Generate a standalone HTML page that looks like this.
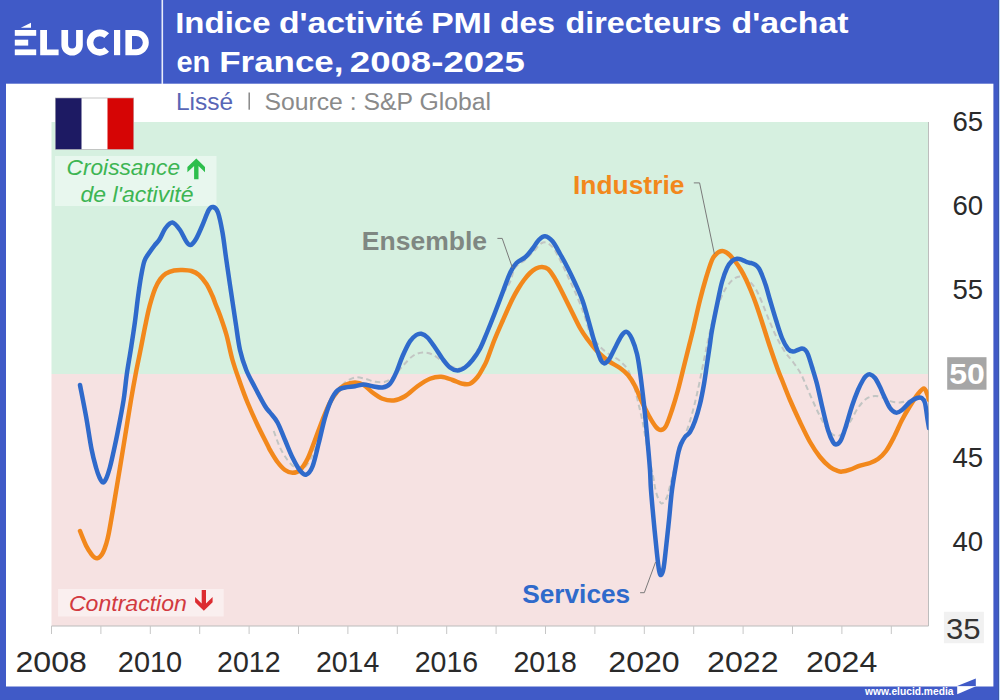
<!DOCTYPE html>
<html><head><meta charset="utf-8"><title>PMI France</title>
<style>
html,body{margin:0;padding:0;background:#fff;}
body{width:1000px;height:700px;overflow:hidden;font-family:"Liberation Sans",sans-serif;}
svg{display:block;font-family:"Liberation Sans",sans-serif;}
</style></head><body>
<svg width="1000" height="700" viewBox="0 0 1000 700">
<defs><clipPath id="cp"><rect x="51.5" y="122" width="877.0" height="504"/></clipPath></defs>
<!-- frame -->
<rect x="0" y="0" width="1000" height="700" fill="#405ac7"/>
<rect x="6" y="83.7" width="987.4" height="602.8" fill="#ffffff"/>
<rect x="998" y="0" width="1" height="700" fill="#3d59a8"/><rect x="999" y="0" width="1" height="700" fill="#c4dcff"/>
<!-- header -->
<rect x="161.5" y="0" width="1.6" height="84" fill="#e8ecfa"/>
<g fill="#ffffff">
<rect x="14.8" y="30" width="21.4" height="5.8"/>
<rect x="14.8" y="39.7" width="13.4" height="5.9"/>
<rect x="14.8" y="49.4" width="21.4" height="5.8"/>
<polygon points="20.8,27.7 31,22.7 31,27.7"/>
<path d="M40.2,30 h6.8 v19.4 h11.6 v5.8 h-18.4 z"/>
<path d="M61.4,30 h6.7 v14.6 a4,4 0 0 0 8,0 v-14.6 h6.7 v14.9 a10.7,10.7 0 0 1 -21.4,0 z"/>
<path d="M106.7,35.7 A9.75,9.75 0 1 0 106.7,49.5" fill="none" stroke="#ffffff" stroke-width="6.6"/>
<rect x="114" y="30" width="6.2" height="25.2"/>
<path fill-rule="evenodd" d="M125.4,30 h10.8 a12.6,12.6 0 0 1 0,25.2 h-10.8 z M132,36 h4.2 a6.6,6.6 0 0 1 0,13.2 h-4.2 z"/>
<text x="175.2" y="33" font-size="29" font-weight="bold" textLength="95.3" lengthAdjust="spacingAndGlyphs">Indice</text>
<text x="278.9" y="33" font-size="29" font-weight="bold" textLength="144.6" lengthAdjust="spacingAndGlyphs">d'activité</text>
<text x="430.9" y="33" font-size="29" font-weight="bold" textLength="60.6" lengthAdjust="spacingAndGlyphs">PMI</text>
<text x="500.1" y="33" font-size="29" font-weight="bold" textLength="55.0" lengthAdjust="spacingAndGlyphs">des</text>
<text x="565.5" y="33" font-size="29" font-weight="bold" textLength="156.0" lengthAdjust="spacingAndGlyphs">directeurs</text>
<text x="731.5" y="33" font-size="29" font-weight="bold" textLength="117.0" lengthAdjust="spacingAndGlyphs">d'achat</text>
<text x="176.5" y="72" font-size="29" font-weight="bold" textLength="33.8" lengthAdjust="spacingAndGlyphs">en</text>
<text x="219.3" y="72" font-size="29" font-weight="bold" textLength="124.2" lengthAdjust="spacingAndGlyphs">France,</text>
<text x="349.8" y="72" font-size="29" font-weight="bold" textLength="175.0" lengthAdjust="spacingAndGlyphs">2008-2025</text>
</g>
<!-- subtitle -->
<text x="176" y="109.8" font-size="23.5" fill="#5866b6" textLength="57.2" lengthAdjust="spacingAndGlyphs">Lissé</text>
<rect x="248.5" y="92.5" width="1.4" height="17.2" fill="#808080"/>
<text x="264.4" y="109.8" font-size="23.5" fill="#8a8a8a" textLength="226.6" lengthAdjust="spacingAndGlyphs">Source : S&amp;P Global</text>
<!-- plot zones -->
<rect x="51.5" y="122" width="877.0" height="252" fill="#d6f0e0"/>
<rect x="51.5" y="374" width="877.0" height="252" fill="#f6e2e2"/>
<line x1="51.5" y1="626" x2="928.5" y2="626" stroke="#bcbcbc" stroke-width="1"/>
<line x1="928.5" y1="122" x2="928.5" y2="626" stroke="#bdbdbd" stroke-width="1"/>
<g stroke="#c6c6c6" stroke-width="1"><line x1="51.5" y1="626.0" x2="51.5" y2="634.0"/><line x1="100.9" y1="626.0" x2="100.9" y2="634.0"/><line x1="150.3" y1="626.0" x2="150.3" y2="634.0"/><line x1="199.7" y1="626.0" x2="199.7" y2="634.0"/><line x1="249.1" y1="626.0" x2="249.1" y2="634.0"/><line x1="298.5" y1="626.0" x2="298.5" y2="634.0"/><line x1="347.9" y1="626.0" x2="347.9" y2="634.0"/><line x1="397.3" y1="626.0" x2="397.3" y2="634.0"/><line x1="446.7" y1="626.0" x2="446.7" y2="634.0"/><line x1="496.1" y1="626.0" x2="496.1" y2="634.0"/><line x1="545.5" y1="626.0" x2="545.5" y2="634.0"/><line x1="594.9" y1="626.0" x2="594.9" y2="634.0"/><line x1="644.3" y1="626.0" x2="644.3" y2="634.0"/><line x1="693.7" y1="626.0" x2="693.7" y2="634.0"/><line x1="743.1" y1="626.0" x2="743.1" y2="634.0"/><line x1="792.5" y1="626.0" x2="792.5" y2="634.0"/><line x1="841.9" y1="626.0" x2="841.9" y2="634.0"/><line x1="891.3" y1="626.0" x2="891.3" y2="634.0"/></g>
<!-- label boxes -->
<rect x="55" y="156" width="161.5" height="50" fill="#ffffff" fill-opacity="0.45"/>
<rect x="58.1" y="589" width="165.6" height="27.5" fill="#ffffff" fill-opacity="0.45"/>
<!-- curves -->
<g clip-path="url(#cp)" fill="none" stroke-linecap="round" stroke-linejoin="round">
<path d="M273.75,431.00 C274.79,433.75 277.71,442.67 280.00,447.50 C282.29,452.33 285.00,456.67 287.50,460.00 C290.00,463.33 292.50,466.04 295.00,467.50 C297.50,468.96 300.00,470.00 302.50,468.75 C305.00,467.50 307.42,464.46 310.00,460.00 C312.58,455.54 315.50,448.67 318.00,442.00 C320.50,435.33 322.58,427.21 325.00,420.00 C327.42,412.79 330.33,403.75 332.50,398.75 C334.67,393.75 335.92,392.71 338.00,390.00 C340.08,387.29 342.17,384.58 345.00,382.50 C347.83,380.42 351.67,378.12 355.00,377.50 C358.33,376.88 361.67,378.04 365.00,378.75 C368.33,379.46 371.67,381.25 375.00,381.75 C378.33,382.25 382.08,382.46 385.00,381.75 C387.92,381.04 389.58,380.08 392.50,377.50 C395.42,374.92 399.17,369.79 402.50,366.25 C405.83,362.71 409.17,358.54 412.50,356.25 C415.83,353.96 419.17,352.79 422.50,352.50 C425.83,352.21 429.17,353.04 432.50,354.50 C435.83,355.96 439.17,359.17 442.50,361.25 C445.83,363.33 449.58,365.88 452.50,367.00 C455.42,368.12 457.42,368.50 460.00,368.00 C462.58,367.50 465.50,366.33 468.00,364.00 C470.50,361.67 472.17,358.50 475.00,354.00 C477.83,349.50 481.88,343.50 485.00,337.00 C488.12,330.50 491.08,321.67 493.75,315.00 C496.42,308.33 498.29,302.50 501.00,297.00 C503.71,291.50 507.67,286.83 510.00,282.00 C512.33,277.17 512.50,271.67 515.00,268.00 C517.50,264.33 522.00,262.67 525.00,260.00 C528.00,257.33 530.00,254.92 533.00,252.00 C536.00,249.08 539.83,243.42 543.00,242.50 C546.17,241.58 549.50,244.25 552.00,246.50 C554.50,248.75 556.00,252.42 558.00,256.00 C560.00,259.58 562.00,263.83 564.00,268.00 C566.00,272.17 568.00,276.67 570.00,281.00 C572.00,285.33 573.67,288.50 576.00,294.00 C578.33,299.50 581.67,307.50 584.00,314.00 C586.33,320.50 587.67,327.92 590.00,333.00 C592.33,338.08 595.33,341.33 598.00,344.50 C600.67,347.67 603.33,349.92 606.00,352.00 C608.67,354.08 611.67,355.50 614.00,357.00 C616.33,358.50 617.67,358.83 620.00,361.00 C622.33,363.17 625.67,365.83 628.00,370.00 C630.33,374.17 632.17,380.00 634.00,386.00 C635.83,392.00 637.50,399.67 639.00,406.00 C640.50,412.33 641.50,416.33 643.00,424.00 C644.50,431.67 646.33,443.33 648.00,452.00 C649.67,460.67 651.67,469.33 653.00,476.00 C654.33,482.67 654.83,487.67 656.00,492.00 C657.17,496.33 658.83,500.17 660.00,502.00 C661.17,503.83 661.83,503.83 663.00,503.00 C664.17,502.17 665.83,499.83 667.00,497.00 C668.17,494.17 668.50,491.83 670.00,486.00 C671.50,480.17 674.00,469.33 676.00,462.00 C678.00,454.67 680.17,447.33 682.00,442.00 C683.83,436.67 685.33,434.67 687.00,430.00 C688.67,425.33 690.33,420.00 692.00,414.00 C693.67,408.00 695.33,401.33 697.00,394.00 C698.67,386.67 700.50,377.33 702.00,370.00 C703.50,362.67 704.83,355.67 706.00,350.00 C707.17,344.33 707.67,341.83 709.00,336.00 C710.33,330.17 712.08,321.17 714.00,315.00 C715.92,308.83 718.50,303.50 720.50,299.00 C722.50,294.50 723.92,291.25 726.00,288.00 C728.08,284.75 730.67,281.42 733.00,279.50 C735.33,277.58 737.67,276.58 740.00,276.50 C742.33,276.42 744.50,277.08 747.00,279.00 C749.50,280.92 752.67,284.50 755.00,288.00 C757.33,291.50 758.67,294.67 761.00,300.00 C763.33,305.33 766.33,313.67 769.00,320.00 C771.67,326.33 774.33,332.67 777.00,338.00 C779.67,343.33 782.33,348.00 785.00,352.00 C787.67,356.00 790.33,358.33 793.00,362.00 C795.67,365.67 798.50,369.33 801.00,374.00 C803.50,378.67 805.50,384.33 808.00,390.00 C810.50,395.67 813.67,403.00 816.00,408.00 C818.33,413.00 820.00,416.33 822.00,420.00 C824.00,423.67 825.83,427.40 828.00,430.00 C830.17,432.60 832.67,434.93 835.00,435.60 C837.33,436.27 839.50,436.27 842.00,434.00 C844.50,431.73 847.33,426.33 850.00,422.00 C852.67,417.67 855.33,411.83 858.00,408.00 C860.67,404.17 863.17,401.00 866.00,399.00 C868.83,397.00 872.00,396.17 875.00,396.00 C878.00,395.83 881.17,397.07 884.00,398.00 C886.83,398.93 889.33,400.87 892.00,401.60 C894.67,402.33 897.33,402.50 900.00,402.40 C902.67,402.30 905.33,401.57 908.00,401.00 C910.67,400.43 913.33,399.33 916.00,399.00 C918.67,398.67 921.83,398.83 924.00,399.00 C926.17,399.17 928.17,399.83 929.00,400.00" stroke="#c2c5c3" stroke-width="2" stroke-dasharray="5.5,3.5" stroke-linecap="butt"/>
<path d="M80.00,531.00 C81.04,533.50 84.25,542.00 86.25,546.00 C88.25,550.00 90.58,553.07 92.00,555.00 C93.42,556.93 93.92,557.05 94.80,557.60 C95.68,558.15 96.43,558.43 97.30,558.30 C98.17,558.17 99.05,557.77 100.00,556.80 C100.95,555.83 102.00,554.55 103.00,552.50 C104.00,550.45 105.04,547.67 106.00,544.50 C106.96,541.33 107.46,540.08 108.75,533.50 C110.04,526.92 112.08,514.75 113.75,505.00 C115.42,495.25 117.04,485.33 118.75,475.00 C120.46,464.67 121.96,455.50 124.00,443.00 C126.04,430.50 129.06,411.45 131.00,400.00 C132.94,388.55 133.98,382.87 135.61,374.30 C137.24,365.73 139.15,356.82 140.78,348.60 C142.41,340.38 143.91,332.15 145.40,325.00 C146.89,317.85 148.08,311.77 149.70,305.70 C151.32,299.63 153.32,293.07 155.10,288.60 C156.88,284.13 158.62,281.40 160.40,278.90 C162.18,276.40 163.53,275.00 165.80,273.60 C168.07,272.20 171.22,271.10 174.00,270.50 C176.78,269.90 179.58,269.92 182.50,270.00 C185.42,270.08 188.75,270.17 191.50,271.00 C194.25,271.83 196.50,272.83 199.00,275.00 C201.50,277.17 204.25,280.50 206.50,284.00 C208.75,287.50 211.00,292.67 212.50,296.00 C214.00,299.33 214.21,300.67 215.50,304.00 C216.79,307.33 218.42,310.83 220.25,316.00 C222.08,321.17 224.46,327.67 226.50,335.00 C228.54,342.33 230.25,352.08 232.50,360.00 C234.75,367.92 237.50,375.42 240.00,382.50 C242.50,389.58 244.58,395.42 247.50,402.50 C250.42,409.58 254.17,417.92 257.50,425.00 C260.83,432.08 265.42,440.83 267.50,445.00 C269.58,449.17 268.33,447.17 270.00,450.00 C271.67,452.83 275.00,458.67 277.50,462.00 C280.00,465.33 282.50,468.20 285.00,470.00 C287.50,471.80 290.00,472.80 292.50,472.80 C295.00,472.80 297.50,472.30 300.00,470.00 C302.50,467.70 305.00,464.00 307.50,459.00 C310.00,454.00 312.50,446.50 315.00,440.00 C317.50,433.50 320.00,426.25 322.50,420.00 C325.00,413.75 327.50,407.29 330.00,402.50 C332.50,397.71 335.00,394.17 337.50,391.25 C340.00,388.33 342.08,386.46 345.00,385.00 C347.92,383.54 351.88,382.50 355.00,382.50 C358.12,382.50 360.83,383.33 363.75,385.00 C366.67,386.67 369.38,390.21 372.50,392.50 C375.62,394.79 378.96,397.42 382.50,398.75 C386.04,400.08 390.00,400.92 393.75,400.50 C397.50,400.08 401.04,398.62 405.00,396.25 C408.96,393.88 413.33,389.17 417.50,386.25 C421.67,383.33 426.04,380.33 430.00,378.75 C433.96,377.17 437.50,376.54 441.25,376.75 C445.00,376.96 448.96,378.83 452.50,380.00 C456.04,381.17 459.58,383.12 462.50,383.75 C465.42,384.38 467.50,384.88 470.00,383.75 C472.50,382.62 475.33,379.62 477.50,377.00 C479.67,374.38 481.42,370.83 483.00,368.00 C484.58,365.17 485.10,364.67 487.00,360.00 C488.90,355.33 491.73,346.67 494.40,340.00 C497.07,333.33 500.07,326.67 503.00,320.00 C505.93,313.33 509.50,305.17 512.00,300.00 C514.50,294.83 516.00,292.33 518.00,289.00 C520.00,285.67 522.00,282.67 524.00,280.00 C526.00,277.33 528.00,274.90 530.00,273.00 C532.00,271.10 534.00,269.60 536.00,268.60 C538.00,267.60 540.00,266.93 542.00,267.00 C544.00,267.07 546.00,267.33 548.00,269.00 C550.00,270.67 552.00,273.83 554.00,277.00 C556.00,280.17 557.33,282.83 560.00,288.00 C562.67,293.17 566.67,301.33 570.00,308.00 C573.33,314.67 577.00,322.67 580.00,328.00 C583.00,333.33 585.33,336.33 588.00,340.00 C590.67,343.67 593.33,347.08 596.00,350.00 C598.67,352.92 601.67,355.50 604.00,357.50 C606.33,359.50 607.33,360.25 610.00,362.00 C612.67,363.75 617.00,365.83 620.00,368.00 C623.00,370.17 625.50,372.00 628.00,375.00 C630.50,378.00 632.67,381.50 635.00,386.00 C637.33,390.50 639.67,397.00 642.00,402.00 C644.33,407.00 646.67,411.83 649.00,416.00 C651.33,420.17 654.00,424.67 656.00,427.00 C658.00,429.33 659.33,430.17 661.00,430.00 C662.67,429.83 664.17,429.33 666.00,426.00 C667.83,422.67 670.00,416.00 672.00,410.00 C674.00,404.00 676.00,397.33 678.00,390.00 C680.00,382.67 682.17,373.33 684.00,366.00 C685.83,358.67 687.50,352.00 689.00,346.00 C690.50,340.00 691.17,337.67 693.00,330.00 C694.83,322.33 697.83,308.67 700.00,300.00 C702.17,291.33 704.00,284.67 706.00,278.00 C708.00,271.33 710.42,263.87 712.00,260.00 C713.58,256.13 714.37,256.13 715.50,254.80 C716.63,253.47 717.65,252.63 718.80,252.00 C719.95,251.37 721.20,250.97 722.40,251.00 C723.60,251.03 724.73,251.47 726.00,252.20 C727.27,252.93 728.33,253.68 730.00,255.40 C731.67,257.12 734.17,260.07 736.00,262.50 C737.83,264.93 739.33,267.17 741.00,270.00 C742.67,272.83 744.33,276.00 746.00,279.50 C747.67,283.00 749.33,286.92 751.00,291.00 C752.67,295.08 754.17,298.83 756.00,304.00 C757.83,309.17 759.67,314.83 762.00,322.00 C764.33,329.17 767.33,339.00 770.00,347.00 C772.67,355.00 776.00,364.50 778.00,370.00 C780.00,375.50 780.00,375.00 782.00,380.00 C784.00,385.00 787.00,393.00 790.00,400.00 C793.00,407.00 796.67,415.00 800.00,422.00 C803.33,429.00 806.67,436.17 810.00,442.00 C813.33,447.83 816.67,452.83 820.00,457.00 C823.33,461.17 827.00,464.67 830.00,467.00 C833.00,469.33 836.00,470.23 838.00,471.00 C840.00,471.77 840.00,471.83 842.00,471.60 C844.00,471.37 847.00,470.60 850.00,469.60 C853.00,468.60 856.67,466.70 860.00,465.60 C863.33,464.50 867.00,464.10 870.00,463.00 C873.00,461.90 875.33,461.00 878.00,459.00 C880.67,457.00 883.33,454.67 886.00,451.00 C888.67,447.33 891.33,442.17 894.00,437.00 C896.67,431.83 899.33,425.17 902.00,420.00 C904.67,414.83 907.33,410.33 910.00,406.00 C912.67,401.67 915.67,396.92 918.00,394.00 C920.33,391.08 922.40,388.33 924.00,388.50 C925.60,388.67 926.77,393.08 927.60,395.00 C928.43,396.92 928.77,399.17 929.00,400.00" stroke="#f2881c" stroke-width="4.5"/>
<path d="M80.00,385.00 C81.04,390.42 84.33,406.83 86.25,417.50 C88.17,428.17 89.88,440.67 91.50,449.00 C93.12,457.33 94.67,462.75 96.00,467.50 C97.33,472.25 98.35,475.02 99.50,477.50 C100.65,479.98 101.78,482.23 102.90,482.40 C104.02,482.57 105.02,481.07 106.20,478.50 C107.38,475.93 108.78,471.42 110.00,467.00 C111.22,462.58 112.25,457.67 113.50,452.00 C114.75,446.33 115.82,441.67 117.50,433.00 C119.18,424.33 122.05,409.78 123.60,400.00 C125.15,390.22 125.58,382.87 126.80,374.30 C128.02,365.73 129.61,357.17 130.94,348.60 C132.27,340.03 133.62,331.50 134.80,322.90 C135.98,314.30 136.93,304.87 138.00,297.00 C139.07,289.13 140.12,281.75 141.20,275.70 C142.28,269.65 143.10,264.60 144.50,260.70 C145.90,256.80 147.92,254.87 149.60,252.30 C151.28,249.73 152.93,247.47 154.60,245.30 C156.27,243.13 157.77,242.18 159.60,239.30 C161.43,236.42 163.45,230.80 165.60,228.00 C167.75,225.20 170.10,222.17 172.50,222.50 C174.90,222.83 177.75,226.92 180.00,230.00 C182.25,233.08 184.25,238.50 186.00,241.00 C187.75,243.50 188.83,245.33 190.50,245.00 C192.17,244.67 194.00,242.33 196.00,239.00 C198.00,235.67 200.38,229.83 202.50,225.00 C204.62,220.17 206.96,213.00 208.75,210.00 C210.54,207.00 211.71,206.58 213.25,207.00 C214.79,207.42 216.46,208.25 218.00,212.50 C219.54,216.75 221.17,225.00 222.50,232.50 C223.83,240.00 224.75,248.75 226.00,257.50 C227.25,266.25 228.71,276.25 230.00,285.00 C231.29,293.75 232.75,303.33 233.75,310.00 C234.75,316.67 234.96,318.33 236.00,325.00 C237.04,331.67 238.29,342.50 240.00,350.00 C241.71,357.50 243.75,363.75 246.25,370.00 C248.75,376.25 251.88,381.50 255.00,387.50 C258.12,393.50 262.50,401.83 265.00,406.00 C267.50,410.17 267.92,409.75 270.00,412.50 C272.08,415.25 275.00,417.92 277.50,422.50 C280.00,427.08 282.50,434.17 285.00,440.00 C287.50,445.83 290.00,452.42 292.50,457.50 C295.00,462.58 297.71,467.65 300.00,470.50 C302.29,473.35 304.17,475.27 306.25,474.60 C308.33,473.93 310.42,471.77 312.50,466.50 C314.58,461.23 316.67,451.17 318.75,443.00 C320.83,434.83 322.92,424.67 325.00,417.50 C327.08,410.33 329.17,404.50 331.25,400.00 C333.33,395.50 335.21,392.58 337.50,390.50 C339.79,388.42 342.08,388.21 345.00,387.50 C347.92,386.79 351.88,386.75 355.00,386.25 C358.12,385.75 360.83,384.50 363.75,384.50 C366.67,384.50 369.38,385.75 372.50,386.25 C375.62,386.75 379.58,387.92 382.50,387.50 C385.42,387.08 387.71,386.25 390.00,383.75 C392.29,381.25 394.17,377.08 396.25,372.50 C398.33,367.92 400.21,361.46 402.50,356.25 C404.79,351.04 407.71,344.79 410.00,341.25 C412.29,337.71 414.38,336.25 416.25,335.00 C418.12,333.75 419.38,333.33 421.25,333.75 C423.12,334.17 425.21,335.21 427.50,337.50 C429.79,339.79 432.50,343.96 435.00,347.50 C437.50,351.04 440.00,355.42 442.50,358.75 C445.00,362.08 447.50,365.54 450.00,367.50 C452.50,369.46 455.00,370.50 457.50,370.50 C460.00,370.50 462.50,369.25 465.00,367.50 C467.50,365.75 470.00,363.12 472.50,360.00 C475.00,356.88 477.67,353.12 480.00,348.75 C482.33,344.38 484.00,339.79 486.50,333.75 C489.00,327.71 492.17,319.79 495.00,312.50 C497.83,305.21 500.95,296.67 503.50,290.00 C506.05,283.33 508.13,277.00 510.30,272.50 C512.47,268.00 513.97,265.58 516.50,263.00 C519.03,260.42 522.83,259.38 525.50,257.00 C528.17,254.62 530.29,251.58 532.50,248.75 C534.71,245.92 536.67,242.08 538.75,240.00 C540.83,237.92 542.71,236.04 545.00,236.25 C547.29,236.46 550.00,238.33 552.50,241.25 C555.00,244.17 557.50,249.38 560.00,253.75 C562.50,258.12 565.00,262.62 567.50,267.50 C570.00,272.38 572.50,277.50 575.00,283.00 C577.50,288.50 580.21,294.08 582.50,300.50 C584.79,306.92 586.88,315.00 588.75,321.50 C590.62,328.00 592.12,334.08 593.75,339.50 C595.38,344.92 597.26,350.48 598.50,354.00 C599.74,357.52 600.28,359.03 601.20,360.60 C602.12,362.17 603.03,363.20 604.00,363.40 C604.97,363.60 606.00,362.73 607.00,361.80 C608.00,360.87 608.50,360.43 610.00,357.80 C611.50,355.17 614.00,349.80 616.00,346.00 C618.00,342.20 620.17,337.33 622.00,335.00 C623.83,332.67 625.33,331.33 627.00,332.00 C628.67,332.67 630.33,335.33 632.00,339.00 C633.67,342.67 635.67,348.50 637.00,354.00 C638.33,359.50 639.00,365.00 640.00,372.00 C641.00,379.00 642.07,388.00 643.00,396.00 C643.93,404.00 644.77,411.67 645.60,420.00 C646.43,428.33 647.27,437.67 648.00,446.00 C648.73,454.33 649.50,462.67 650.00,470.00 C650.50,477.33 650.33,481.00 651.00,490.00 C651.67,499.00 653.00,513.33 654.00,524.00 C655.00,534.67 656.17,546.33 657.00,554.00 C657.83,561.67 658.33,566.50 659.00,570.00 C659.67,573.50 660.23,575.33 661.00,575.00 C661.77,574.67 662.77,572.50 663.60,568.00 C664.43,563.50 665.10,556.00 666.00,548.00 C666.90,540.00 668.00,529.67 669.00,520.00 C670.00,510.33 670.83,499.17 672.00,490.00 C673.17,480.83 674.92,471.33 676.00,465.00 C677.08,458.67 677.67,455.50 678.50,452.00 C679.33,448.50 679.92,446.50 681.00,444.00 C682.08,441.50 683.50,439.00 685.00,437.00 C686.50,435.00 688.33,434.67 690.00,432.00 C691.67,429.33 693.33,425.67 695.00,421.00 C696.67,416.33 698.50,410.17 700.00,404.00 C701.50,397.83 702.83,390.67 704.00,384.00 C705.17,377.33 706.00,370.67 707.00,364.00 C708.00,357.33 709.17,349.67 710.00,344.00 C710.83,338.33 710.67,337.33 712.00,330.00 C713.33,322.67 716.33,308.00 718.00,300.00 C719.67,292.00 720.50,287.33 722.00,282.00 C723.50,276.67 725.33,271.50 727.00,268.00 C728.67,264.50 730.33,262.53 732.00,261.00 C733.67,259.47 735.33,259.00 737.00,258.80 C738.67,258.60 740.33,259.23 742.00,259.80 C743.67,260.37 745.50,261.67 747.00,262.20 C748.50,262.73 749.58,262.57 751.00,263.00 C752.42,263.43 754.17,263.88 755.50,264.80 C756.83,265.72 757.92,266.80 759.00,268.50 C760.08,270.20 760.83,272.08 762.00,275.00 C763.17,277.92 764.67,281.83 766.00,286.00 C767.33,290.17 768.33,294.33 770.00,300.00 C771.67,305.67 774.00,313.67 776.00,320.00 C778.00,326.33 780.00,333.17 782.00,338.00 C784.00,342.83 786.17,346.73 788.00,349.00 C789.83,351.27 791.33,351.47 793.00,351.60 C794.67,351.73 796.50,350.33 798.00,349.80 C799.50,349.27 800.78,348.37 802.00,348.40 C803.22,348.43 804.30,348.98 805.30,350.00 C806.30,351.02 806.88,351.67 808.00,354.50 C809.12,357.33 810.50,362.08 812.00,367.00 C813.50,371.92 815.33,377.50 817.00,384.00 C818.67,390.50 820.17,398.33 822.00,406.00 C823.83,413.67 826.17,424.00 828.00,430.00 C829.83,436.00 831.57,439.60 833.00,442.00 C834.43,444.40 835.27,444.73 836.60,444.40 C837.93,444.07 839.43,443.07 841.00,440.00 C842.57,436.93 844.17,431.67 846.00,426.00 C847.83,420.33 850.00,412.00 852.00,406.00 C854.00,400.00 856.17,394.33 858.00,390.00 C859.83,385.67 861.67,382.33 863.00,380.00 C864.33,377.67 864.83,376.93 866.00,376.00 C867.17,375.07 868.50,374.07 870.00,374.40 C871.50,374.73 873.33,375.90 875.00,378.00 C876.67,380.10 878.50,384.00 880.00,387.00 C881.50,390.00 882.33,392.50 884.00,396.00 C885.67,399.50 888.00,405.23 890.00,408.00 C892.00,410.77 894.00,412.27 896.00,412.60 C898.00,412.93 899.67,411.77 902.00,410.00 C904.33,408.23 907.50,404.00 910.00,402.00 C912.50,400.00 915.00,398.63 917.00,398.00 C919.00,397.37 920.67,397.37 922.00,398.20 C923.33,399.03 924.07,399.37 925.00,403.00 C925.93,406.63 926.93,415.83 927.60,420.00 C928.27,424.17 928.77,426.67 929.00,428.00" stroke="#2f6acb" stroke-width="4.5"/>
</g>
<!-- flag -->
<rect x="55.4" y="98" width="78.2" height="51.4" fill="#ffffff" stroke="#b9b9b9" stroke-width="0.8"/>
<rect x="55.6" y="98.2" width="25.9" height="51" fill="#1d1a63"/>
<rect x="107.5" y="98.2" width="25.9" height="51" fill="#d60505"/>
<!-- zone labels -->
<g font-style="italic" font-size="21.5">
<text x="66.6" y="175" fill="#3db553" textLength="113.4" lengthAdjust="spacingAndGlyphs">Croissance</text>
<text x="80.5" y="201.8" fill="#3db553" textLength="113" lengthAdjust="spacingAndGlyphs">de l'activité</text>
<text x="68.9" y="611" fill="#d23a40" textLength="118" lengthAdjust="spacingAndGlyphs">Contraction</text>
</g>
<polygon points="196.3,158.5 205,167 205,172.3 198.5,166 198.5,179.2 194.1,179.2 194.1,166 187.4,172.3 187.4,167" fill="#2dbe4c"/>
<polygon points="201.7,590 206,590 206,603.4 212.6,597 212.6,602.3 203.85,610.8 195.1,602.3 195.1,597 201.7,603.4" fill="#dc2c31"/>
<!-- series labels -->
<text x="361.8" y="249.6" font-size="26" font-weight="bold" fill="#7f8782" textLength="125.2" lengthAdjust="spacingAndGlyphs">Ensemble</text>
<text x="573" y="193.7" font-size="26" font-weight="bold" fill="#f2881c" textLength="111.4" lengthAdjust="spacingAndGlyphs">Industrie</text>
<text x="522.2" y="602.9" font-size="26" font-weight="bold" fill="#2f6acb" textLength="108" lengthAdjust="spacingAndGlyphs">Services</text>
<g fill="none" stroke="#7a7a7a" stroke-width="1">
<polyline points="497.4,238.4 502.2,238.4 512.5,268"/>
<polyline points="693.8,182.9 699.6,182.9 714.4,254"/>
<polyline points="640.1,592.7 644.3,592.7 655.6,562"/>
</g>
<!-- y labels -->
<g font-size="26.8" fill="#2a2a2a"><text x="967.75" y="131.3" text-anchor="middle" textLength="30.7" lengthAdjust="spacingAndGlyphs">65</text><text x="967.75" y="215.3" text-anchor="middle" textLength="30.7" lengthAdjust="spacingAndGlyphs">60</text><text x="967.75" y="299.3" text-anchor="middle" textLength="30.7" lengthAdjust="spacingAndGlyphs">55</text><text x="967.75" y="467.3" text-anchor="middle" textLength="30.7" lengthAdjust="spacingAndGlyphs">45</text><text x="967.75" y="551.3" text-anchor="middle" textLength="30.7" lengthAdjust="spacingAndGlyphs">40</text></g>
<rect x="943.9" y="611.8" width="40" height="31.4" fill="#f1f1f1"/>
<text x="963.2" y="638.8" font-size="28.8" fill="#333333" text-anchor="middle" textLength="34.6" lengthAdjust="spacingAndGlyphs">35</text>
<rect x="947.2" y="357.2" width="39.3" height="32.5" fill="#a6a6a6"/>
<text x="967" y="384.3" font-size="28.6" font-weight="bold" fill="#ffffff" text-anchor="middle" textLength="35.6" lengthAdjust="spacingAndGlyphs">50</text>
<!-- x labels -->
<g font-size="29.4" fill="#2a2a2a"><text x="51.2" y="672" text-anchor="middle" textLength="71.4" lengthAdjust="spacingAndGlyphs">2008</text><text x="150.0" y="672" text-anchor="middle" textLength="64.4" lengthAdjust="spacingAndGlyphs">2010</text><text x="248.8" y="672" text-anchor="middle" textLength="63.4" lengthAdjust="spacingAndGlyphs">2012</text><text x="347.6" y="672" text-anchor="middle" textLength="63.4" lengthAdjust="spacingAndGlyphs">2014</text><text x="446.4" y="672" text-anchor="middle" textLength="63.4" lengthAdjust="spacingAndGlyphs">2016</text><text x="545.2" y="672" text-anchor="middle" textLength="63.4" lengthAdjust="spacingAndGlyphs">2018</text><text x="644.0" y="672" text-anchor="middle" textLength="71.4" lengthAdjust="spacingAndGlyphs">2020</text><text x="742.8" y="672" text-anchor="middle" textLength="71.4" lengthAdjust="spacingAndGlyphs">2022</text><text x="841.6" y="672" text-anchor="middle" textLength="71.4" lengthAdjust="spacingAndGlyphs">2024</text></g>
<!-- footer -->
<text x="865" y="694.9" font-size="10.5" font-weight="bold" fill="#ffffff" textLength="88.5" lengthAdjust="spacingAndGlyphs">www.elucid.media</text>
<polygon points="957.2,685.9 975.8,678.6 975.8,685.9" fill="#405ac7"/>
<polygon points="957.2,686.3 975.8,686.3 957.2,694.2" fill="#ffffff"/>
</svg>
</body></html>
